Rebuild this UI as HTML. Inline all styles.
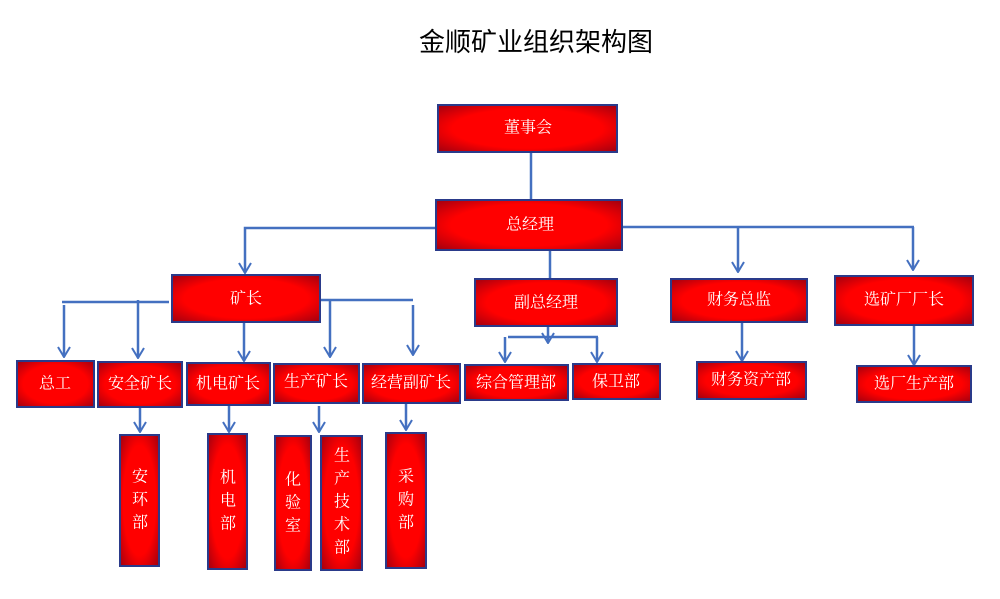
<!DOCTYPE html>
<html><head><meta charset="utf-8"><style>
body{margin:0;background:#fff;}
svg{display:block}
text{font-family:"Liberation Serif","Noto Serif CJK SC",serif;fill:#fff;font-size:16px;text-anchor:middle;dominant-baseline:central}
.t{fill:#000;font-family:"Liberation Sans","Noto Sans CJK SC",sans-serif;font-size:26px}
.b{fill:url(#g);stroke:#2a3a8a;stroke-width:2}
.l{stroke:#4470c0;stroke-width:2.5;fill:none}
</style></head><body>
<svg width="1000" height="599" viewBox="0 0 1000 599">
<defs>
<radialGradient id="g" cx="50%" cy="50%" r="70%">
<stop offset="0.6" stop-color="#ff0000"/><stop offset="1" stop-color="#a00010"/>
</radialGradient>
<marker id="a" viewBox="0 0 12 14" refX="11" refY="7" markerWidth="12" markerHeight="14" markerUnits="userSpaceOnUse" orient="auto">
<path d="M1,1 L11,7 L1,13" fill="none" stroke="#4470c0" stroke-width="2"/>
</marker>
</defs>
<text class="t" x="536" y="42">金顺矿业组织架构图</text>
<g class="l">
<path d="M531 152V200"/>
<path d="M436 228H245V273" marker-end="url(#a)"/>
<path d="M622 227H914"/>
<path d="M738 227V272" marker-end="url(#a)"/>
<path d="M913 227V270" marker-end="url(#a)"/>
<path d="M550 250V279"/>
<path d="M548 326V343" marker-end="url(#a)"/>
<path d="M508 337H598"/>
<path d="M505 337V362" marker-end="url(#a)"/>
<path d="M597 337V362" marker-end="url(#a)"/>
<path d="M742 322V361" marker-end="url(#a)"/>
<path d="M914 325V365" marker-end="url(#a)"/>
<path d="M62 302H169"/>
<path d="M64 305V357" marker-end="url(#a)"/>
<path d="M138 300V358" marker-end="url(#a)"/>
<path d="M321 300H413"/>
<path d="M330 300V357" marker-end="url(#a)"/>
<path d="M413 305V355" marker-end="url(#a)"/>
<path d="M244 322V361" marker-end="url(#a)"/>
<path d="M140 407V432" marker-end="url(#a)"/>
<path d="M229 405V432" marker-end="url(#a)"/>
<path d="M319 406V432" marker-end="url(#a)"/>
<path d="M406 403V430" marker-end="url(#a)"/>
</g>
<rect class="b" x="438" y="105" width="179" height="47"/><text x="528" y="128">董事会</text>
<rect class="b" x="436" y="200" width="186" height="50"/><text x="530" y="225">总经理</text>
<rect class="b" x="172" y="275" width="148" height="47"/><text x="246" y="299">矿长</text>
<rect class="b" x="475" y="279" width="142" height="47"/><text x="546" y="303">副总经理</text>
<rect class="b" x="671" y="279" width="136" height="43"/><text x="739" y="300">财务总监</text>
<rect class="b" x="835" y="276" width="138" height="49"/><text x="904" y="300">选矿厂厂长</text>
<rect class="b" x="17" y="361" width="77" height="46"/><text x="55" y="384">总工</text>
<rect class="b" x="98" y="362" width="84" height="45"/><text x="140" y="384">安全矿长</text>
<rect class="b" x="187" y="363" width="83" height="42"/><text x="228" y="384">机电矿长</text>
<rect class="b" x="274" y="364" width="85" height="39"/><text x="316" y="382">生产矿长</text>
<rect class="b" x="363" y="364" width="97" height="39"/><text x="411" y="383">经营副矿长</text>
<rect class="b" x="465" y="365" width="103" height="35"/><text x="516" y="383">综合管理部</text>
<rect class="b" x="573" y="364" width="87" height="35"/><text x="616" y="382">保卫部</text>
<rect class="b" x="697" y="362" width="109" height="37"/><text x="751" y="380">财务资产部</text>
<rect class="b" x="857" y="366" width="114" height="36"/><text x="914" y="384">选厂生产部</text>
<rect class="b" x="120" y="435" width="39" height="131"/>
<text x="140" y="477">安</text><text x="140" y="500">环</text><text x="140" y="523">部</text>
<rect class="b" x="208" y="434" width="39" height="135"/>
<text x="228" y="478">机</text><text x="228" y="501">电</text><text x="228" y="524">部</text>
<rect class="b" x="275" y="436" width="36" height="134"/>
<text x="293" y="480">化</text><text x="293" y="503">验</text><text x="293" y="526">室</text>
<rect class="b" x="321" y="436" width="41" height="134"/>
<text x="342" y="456">生</text><text x="342" y="479">产</text><text x="342" y="502">技</text><text x="342" y="525">术</text><text x="342" y="548">部</text>
<rect class="b" x="386" y="433" width="40" height="135"/>
<text x="406" y="477">采</text><text x="406" y="500">购</text><text x="406" y="523">部</text>
</svg>
</body></html>
